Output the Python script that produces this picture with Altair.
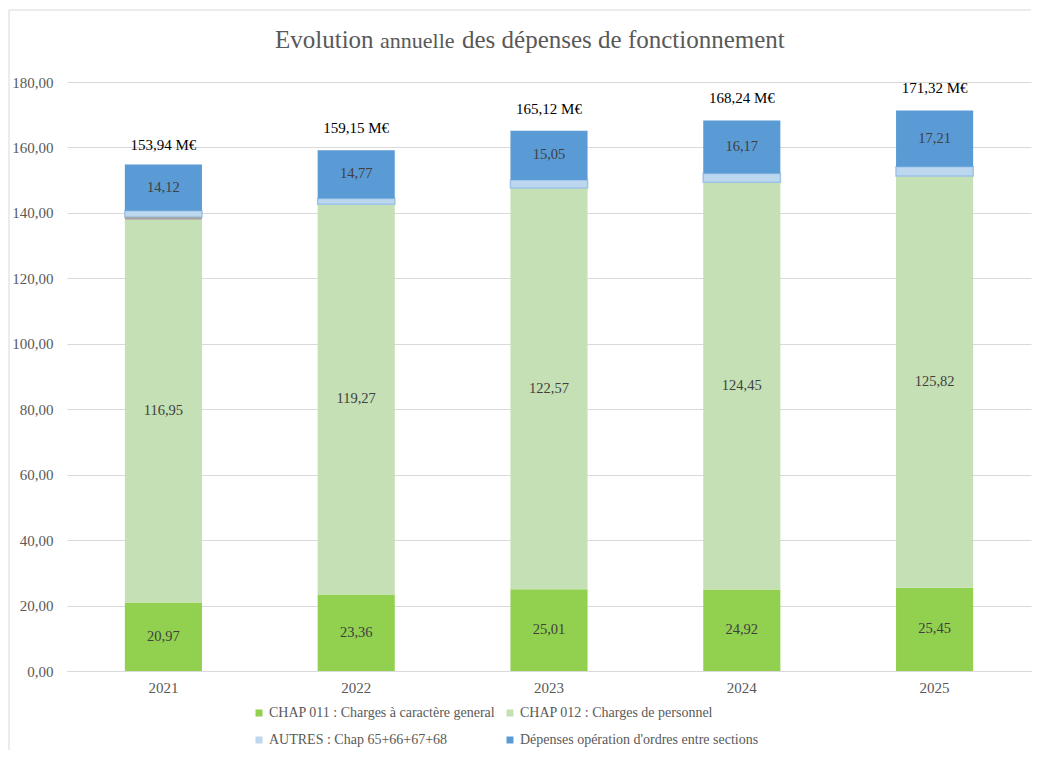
import altair as alt
import pandas as pd

years = ["2021", "2022", "2023", "2024", "2025"]
chap011 = [20.97, 23.36, 25.01, 24.92, 25.45]
chap012 = [116.95, 119.27, 122.57, 124.45, 125.82]
sliver = [0.85, 0.0, 0.0, 0.0, 0.0]
autres = [1.90, 1.75, 2.49, 2.70, 2.84]
ordres = [14.12, 14.77, 15.05, 16.17, 17.21]
totals = [153.94, 159.15, 165.12, 168.24, 171.32]

S1 = "CHAP 011 : Charges à caractère general"
S2 = "CHAP 012 : Charges de personnel"
S3 = "AUTRES : Chap 65+66+67+68"
S4 = "Dépenses opération d'ordres entre sections"
SG = "autre"

series_order = [S1, S2, SG, S3, S4]
series_vals = [chap011, chap012, sliver, autres, ordres]
legend_series = [S1, S2, S3, S4]
colors = ["#92D050", "#C5E0B4", "#BDD7EE", "#5B9BD5"]


def fr(v):
    return f"{v:.2f}".replace(".", ",")


rows = []
for i, yr in enumerate(years):
    cum = 0.0
    for k, s in enumerate(series_order):
        v = series_vals[k][i]
        rows.append({"year": yr, "series": s, "v": v, "y0": cum, "y1": cum + v,
                     "mid": cum + v / 2, "label": fr(v), "order": k})
        cum += v
df = pd.DataFrame(rows)
tot = pd.DataFrame({"year": years, "total": totals, "label": [fr(t) + " M€" for t in totals]})

FONT = "Liberation Serif"
xenc = alt.X("year:N", sort=years,
             scale=alt.Scale(paddingInner=0.6, paddingOuter=0.3),
             axis=alt.Axis(title=None, labelAngle=0, ticks=False, domainColor="#D9D9D9",
                           labelFont=FONT, labelFontSize=15, labelColor="#595959", labelPadding=9))
yscale = alt.Scale(domain=[0, 180], nice=False)

base = alt.Chart(df)

bars = base.transform_filter(alt.datum.series != SG).mark_bar(stroke="#9DC3E6").encode(
    x=xenc,
    y=alt.Y("y1:Q", scale=yscale,
            axis=alt.Axis(title=None, values=list(range(0, 181, 20)),
                          labelExpr="replace(format(datum.value, '.2f'), '.', ',')",
                          domain=False, ticks=False, gridColor="#D9D9D9",
                          labelFont=FONT, labelColor="#595959", labelFontSize=15,
                          labelPadding=14)),
    y2="y0:Q",
    color=alt.Color("series:N", title=None,
                    scale=alt.Scale(domain=legend_series, range=colors),
                    legend=alt.Legend(orient="none", legendX=185, legendY=624, columns=2,
                                      direction="horizontal",
                                      symbolType="square", symbolSize=49, symbolStrokeWidth=0,
                                      labelFontSize=14, labelColor="#595959", labelFont=FONT,
                                      labelOffset=3, columnPadding=7, rowPadding=13,
                                      labelLimit=400)),
    strokeWidth=alt.condition(alt.datum.series == S3, alt.value(1.5), alt.value(0)),
)

grey = base.transform_filter((alt.datum.series == SG) & (alt.datum.v > 0)).mark_bar(color="#A5A5A5").encode(
    x=alt.X("year:N", sort=years), y=alt.Y("y1:Q", scale=yscale), y2="y0:Q")

seg_text = base.transform_filter(alt.FieldOneOfPredicate(field="series", oneOf=[S1, S2, S4])).mark_text(
    font=FONT, fontSize=14.5, color="#404040", baseline="middle").encode(
    x=alt.X("year:N", sort=years), y=alt.Y("mid:Q", scale=yscale), text="label:N")

tot_text = alt.Chart(tot).mark_text(font=FONT, fontSize=15, color="#000000", baseline="middle",
                                    dy=-22).encode(
    x=alt.X("year:N", sort=years), y=alt.Y("total:Q", scale=yscale), text="label:N")

one = alt.Data(values=[{"a": 1}])
t1 = alt.Chart(one).mark_text(text="Evolution", font=FONT, fontSize=25, color="#595959",
                              align="left", baseline="alphabetic").encode(
    x=alt.value(208), y=alt.value(-34))
t2 = alt.Chart(one).mark_text(text="annuelle", font=FONT, fontSize=22, color="#595959",
                              align="left", baseline="alphabetic").encode(
    x=alt.value(313), y=alt.value(-34))
t3 = alt.Chart(one).mark_text(text="des dépenses de fonctionnement", font=FONT, fontSize=25,
                              color="#595959", align="left", baseline="alphabetic").encode(
    x=alt.value(395), y=alt.value(-34))

border = alt.Chart(one).mark_rule(color="#D9D9D9", strokeWidth=1).encode(
    x=alt.value(-58), y=alt.value(-72), y2=alt.value(668))
border_top = alt.Chart(one).mark_rule(color="#D9D9D9", strokeWidth=1).encode(
    x=alt.value(-58), x2=alt.value(964), y=alt.value(-72))

chart = alt.layer(border, border_top, bars, grey, seg_text, tot_text, t1, t2, t3).properties(
    width=964, height=589,
    autosize=alt.AutoSizeParams(type="none"),
    padding={"left": 59, "top": 74, "right": 1, "bottom": 79},
).configure(font=FONT).configure_view(stroke=None).configure_text(font=FONT)

chart.save("out.html", embed_options={"renderer": "svg", "actions": False})
